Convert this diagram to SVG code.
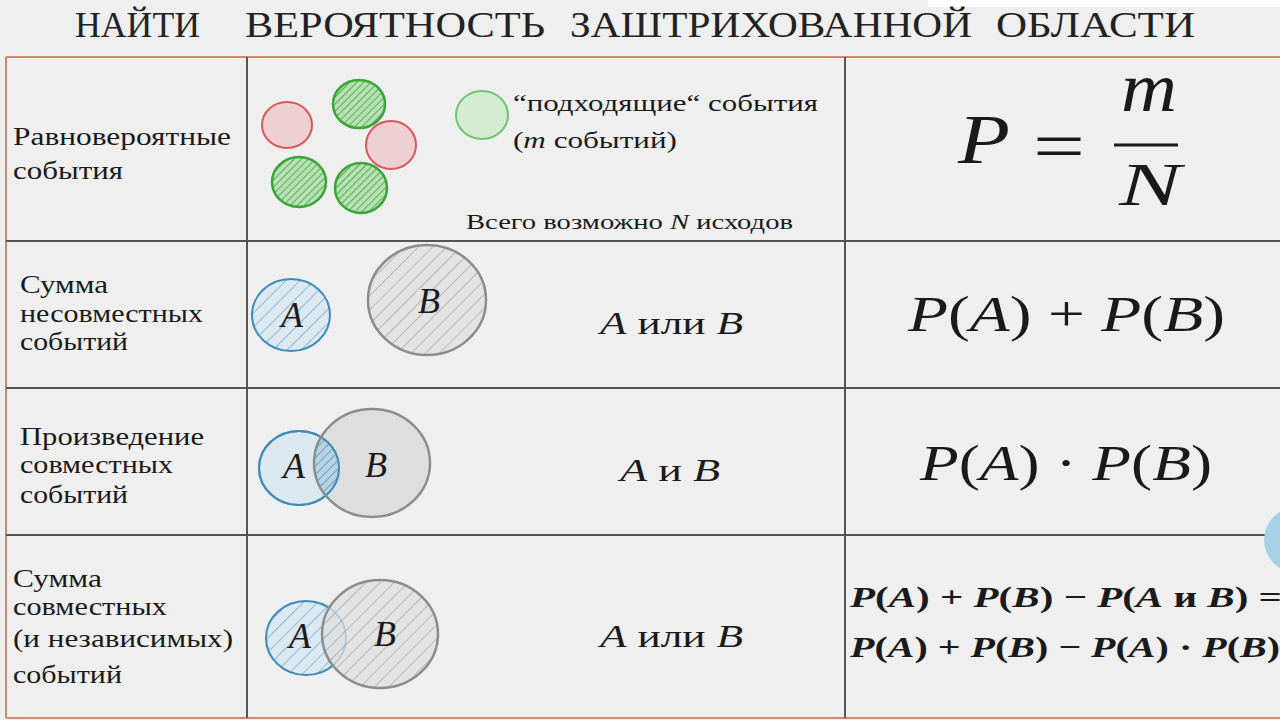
<svg xmlns="http://www.w3.org/2000/svg" width="1280" height="720" viewBox="0 0 1280 720">
<defs>
<style>
.t{font-family:"Liberation Serif","DejaVu Serif",serif;fill:#1a1a1a}
.ttl{font-size:36px;fill:#222}
.lbl{font-size:26px}
.i{font-style:italic}
.v{font-family:"Liberation Serif","DejaVu Serif",serif;font-style:italic;font-size:36px;fill:#1a1a1a;text-anchor:middle}
.grid{stroke:#555;stroke-width:2;fill:none}
.frame{stroke:#c98a72;stroke-width:2;fill:none}
.red{fill:#efd0d2;stroke:#d9585a;stroke-width:2}
.grn{fill:url(#hG);stroke:#3aa63a;stroke-width:2.5}
.blu{stroke:#3d8bb8;stroke-width:2}
.gry{stroke:#8c8c8c;stroke-width:2.5}
</style>
<pattern id="hG" width="5" height="5" patternUnits="userSpaceOnUse" patternTransform="rotate(45)">
<rect width="5" height="5" fill="#b8e0b4"/>
<line x1="0" y1="0" x2="0" y2="5" stroke="#3aa63a" stroke-width="1.6"/>
</pattern>
<pattern id="hB" width="10" height="10" patternUnits="userSpaceOnUse" patternTransform="rotate(45)">
<rect width="10" height="10" fill="#dde9f0"/>
<line x1="0" y1="0" x2="0" y2="10" stroke="#5d9dc6" stroke-width="1.2"/>
</pattern>
<pattern id="hB2" width="6" height="6" patternUnits="userSpaceOnUse" patternTransform="rotate(45)">
<rect width="6" height="6" fill="#b9d3e3"/>
<line x1="0" y1="0" x2="0" y2="6" stroke="#3d8bb8" stroke-width="1.4"/>
</pattern>
<pattern id="hY" width="10" height="10" patternUnits="userSpaceOnUse" patternTransform="rotate(45)">
<rect width="10" height="10" fill="#dedede" fill-opacity="0.75"/>
<line x1="0" y1="0" x2="0" y2="10" stroke="#9a9a9a" stroke-width="1.2"/>
</pattern>
<clipPath id="clipA3"><ellipse cx="299" cy="468" rx="40" ry="37"/></clipPath>
</defs>

<rect width="1280" height="720" fill="#efefef"/>
<rect x="928" y="0" width="352" height="7" fill="#ffffff"/>

<g id="title">
<text class="t ttl" x="75" y="37" textLength="125" lengthAdjust="spacingAndGlyphs">НАЙТИ</text>
<text class="t ttl" x="245" y="37" textLength="300" lengthAdjust="spacingAndGlyphs">ВЕРОЯТНОСТЬ</text>
<text class="t ttl" x="570" y="37" textLength="402" lengthAdjust="spacingAndGlyphs">ЗАШТРИХОВАННОЙ</text>
<text class="t ttl" x="996" y="37" textLength="199" lengthAdjust="spacingAndGlyphs">ОБЛАСТИ</text>
</g>

<g id="table">
<line class="frame" x1="6" y1="57" x2="1280" y2="57"/>
<line class="frame" x1="6" y1="57" x2="6" y2="718"/>
<line class="frame" x1="6" y1="718" x2="1280" y2="718"/>
<line class="grid" x1="247" y1="57" x2="247" y2="718"/>
<line class="grid" x1="845" y1="57" x2="845" y2="718"/>
<line class="grid" x1="6" y1="241" x2="1280" y2="241"/>
<line class="grid" x1="6" y1="388" x2="1280" y2="388"/>
<line class="grid" x1="6" y1="535" x2="1280" y2="535"/>
</g>

<g id="row1">
<text class="t lbl" x="13" y="145" textLength="218" lengthAdjust="spacingAndGlyphs">Равновероятные</text>
<text class="t lbl" x="13" y="179" textLength="110" lengthAdjust="spacingAndGlyphs">события</text>
<ellipse class="red" cx="287" cy="125" rx="25" ry="23"/>
<ellipse class="grn" cx="359" cy="104" rx="26" ry="24"/>
<ellipse class="red" cx="391" cy="145" rx="25" ry="24"/>
<ellipse class="grn" cx="299" cy="182" rx="27" ry="25"/>
<ellipse class="grn" cx="361" cy="188" rx="26" ry="25"/>
<ellipse cx="482" cy="115" rx="26" ry="24" fill="#d4ecd1" stroke="#72c56f" stroke-width="2"/>
<text class="t" x="513" y="111" font-size="23" textLength="305" lengthAdjust="spacingAndGlyphs">“подходящие“ события</text>
<text class="t" x="513" y="148" font-size="23" textLength="164" lengthAdjust="spacingAndGlyphs">(<tspan class="i">m</tspan> событий)</text>
<text class="t" x="466" y="229" font-size="20" textLength="327" lengthAdjust="spacingAndGlyphs">Всего возможно <tspan class="i">N</tspan> исходов</text>
<text class="t i" x="958" y="163" font-size="70" textLength="52" lengthAdjust="spacingAndGlyphs">P</text>
<text class="t" x="1033" y="170" font-size="70" textLength="52" lengthAdjust="spacingAndGlyphs">=</text>
<line x1="1114" y1="145" x2="1178" y2="145" stroke="#1a1a1a" stroke-width="3"/>
<text class="t i" x="1121" y="111" font-size="70" textLength="56" lengthAdjust="spacingAndGlyphs">m</text>
<text class="t i" x="1119" y="205" font-size="62" textLength="62" lengthAdjust="spacingAndGlyphs">N</text>
</g>

<g id="row2">
<text class="t lbl" x="20" y="293" textLength="88" lengthAdjust="spacingAndGlyphs">Сумма</text>
<text class="t lbl" x="20" y="322" textLength="183" lengthAdjust="spacingAndGlyphs">несовместных</text>
<text class="t lbl" x="20" y="350" textLength="108" lengthAdjust="spacingAndGlyphs">событий</text>
<ellipse class="blu" cx="291" cy="315" rx="39" ry="36" fill="url(#hB)"/>
<ellipse class="gry" cx="427" cy="300" rx="59" ry="55" fill="url(#hY)"/>
<text class="v" x="292" y="327">A</text>
<text class="v" x="429" y="313">B</text>
<text class="t" x="600" y="334" font-size="32" textLength="143" lengthAdjust="spacingAndGlyphs"><tspan class="i">A</tspan> или <tspan class="i">B</tspan></text>
<text class="t" x="908" y="331" font-size="50" textLength="317" lengthAdjust="spacingAndGlyphs"><tspan class="i">P</tspan>(<tspan class="i">A</tspan>) + <tspan class="i">P</tspan>(<tspan class="i">B</tspan>)</text>
</g>

<g id="row3">
<text class="t lbl" x="20" y="445" textLength="184" lengthAdjust="spacingAndGlyphs">Произведение</text>
<text class="t lbl" x="20" y="473" textLength="153" lengthAdjust="spacingAndGlyphs">совместных</text>
<text class="t lbl" x="20" y="503" textLength="108" lengthAdjust="spacingAndGlyphs">событий</text>
<ellipse class="blu" cx="299" cy="468" rx="40" ry="37" fill="#dce8ef"/>
<ellipse cx="372" cy="463" rx="58" ry="54" fill="#d9d9d9" fill-opacity="0.8"/>
<ellipse cx="372" cy="463" rx="58" ry="54" fill="url(#hB2)" clip-path="url(#clipA3)"/>
<ellipse cx="299" cy="468" rx="40" ry="37" fill="none" class="blu"/>
<ellipse cx="372" cy="463" rx="58" ry="54" fill="none" class="gry"/>
<text class="v" x="294" y="478">A</text>
<text class="v" x="376" y="477">B</text>
<text class="t" x="620" y="481" font-size="32" textLength="100" lengthAdjust="spacingAndGlyphs"><tspan class="i">A</tspan> и <tspan class="i">B</tspan></text>
<text class="t" x="920" y="480" font-size="50" textLength="292" lengthAdjust="spacingAndGlyphs"><tspan class="i">P</tspan>(<tspan class="i">A</tspan>) · <tspan class="i">P</tspan>(<tspan class="i">B</tspan>)</text>
</g>

<g id="row4">
<text class="t lbl" x="13" y="587" textLength="89" lengthAdjust="spacingAndGlyphs">Сумма</text>
<text class="t lbl" x="13" y="615" textLength="154" lengthAdjust="spacingAndGlyphs">совместных</text>
<text class="t lbl" x="13" y="647" textLength="220" lengthAdjust="spacingAndGlyphs">(и независимых)</text>
<text class="t lbl" x="13" y="683" textLength="109" lengthAdjust="spacingAndGlyphs">событий</text>
<ellipse class="blu" cx="306" cy="638" rx="40" ry="37" fill="url(#hB)"/>
<ellipse class="gry" cx="380" cy="634" rx="58" ry="54" fill="url(#hY)"/>
<text class="v" x="300" y="648">A</text>
<text class="v" x="385" y="646">B</text>
<text class="t" x="600" y="647" font-size="32" textLength="143" lengthAdjust="spacingAndGlyphs"><tspan class="i">A</tspan> или <tspan class="i">B</tspan></text>
<text class="t" x="850" y="607" font-size="30" font-weight="bold" textLength="432" lengthAdjust="spacingAndGlyphs"><tspan class="i">P</tspan>(<tspan class="i">A</tspan>) + <tspan class="i">P</tspan>(<tspan class="i">B</tspan>) − <tspan class="i">P</tspan>(<tspan class="i">A</tspan> и <tspan class="i">B</tspan>) =</text>
<text class="t" x="850" y="657" font-size="30" font-weight="bold" textLength="430" lengthAdjust="spacingAndGlyphs"><tspan class="i">P</tspan>(<tspan class="i">A</tspan>) + <tspan class="i">P</tspan>(<tspan class="i">B</tspan>) − <tspan class="i">P</tspan>(<tspan class="i">A</tspan>) · <tspan class="i">P</tspan>(<tspan class="i">B</tspan>)</text>
</g>

<circle cx="1297" cy="540" r="33" fill="#a8d0e6"/>
</svg>
